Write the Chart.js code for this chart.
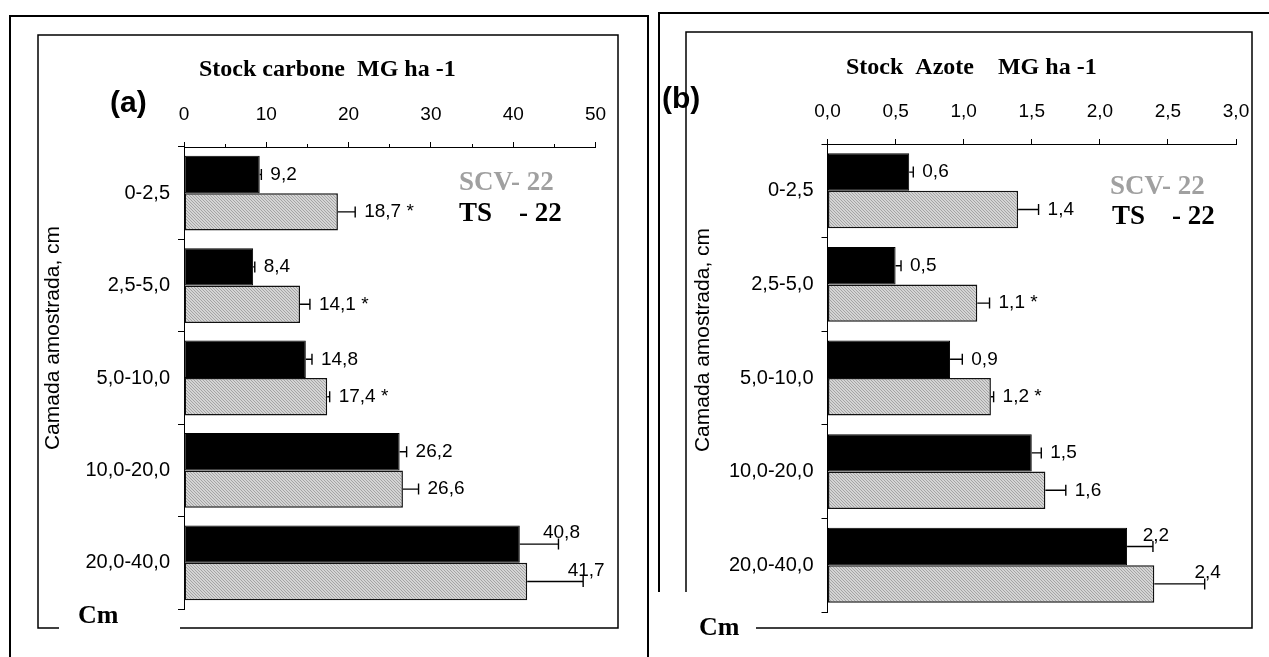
<!DOCTYPE html>
<html>
<head>
<meta charset="utf-8">
<script src="https://cdn.jsdelivr.net/npm/chart.js@4/dist/chart.umd.min.js"></script>
<style>
  html, body { margin: 0; padding: 0; background: #fff; }
  #wrap { position: relative; width: 1269px; height: 657px; overflow: hidden; background: #fff; }
  #chartC { position: absolute; left: 0; top: 0; }
  #chartN { position: absolute; left: 650px; top: 0; }
</style>
</head>
<body>
<div id="wrap">
  <canvas id="chartC" width="650" height="657"></canvas>
  <canvas id="chartN" width="619" height="657"></canvas>
</div>
<script>
// Soil layers (cm)
const layers = ['0-2,5', '2,5-5,0', '5,0-10,0', '10,0-20,0', '20,0-40,0'];

// Carbon stock, Mg ha-1
const carbonTS = [9.2, 8.4, 14.8, 26.2, 40.8];
const carbonTSErr = [0.2, 0.2, 0.75, 0.85, 4.7];
const carbonSCV = [18.7, 14.1, 17.4, 26.6, 41.7];
const carbonSCVErr = [2.1, 1.2, 0.3, 1.9, 6.8];
const carbonSCVMark = ['*', '*', '*', '', ''];
const carbonTicks = [0, 10, 20, 30, 40, 50];

// Nitrogen stock, Mg ha-1
const nitrogenTS = [0.6, 0.5, 0.9, 1.5, 2.2];
const nitrogenTSErr = [0.03, 0.04, 0.09, 0.07, 0.19];
const nitrogenSCV = [1.4, 1.1, 1.2, 1.6, 2.4];
const nitrogenSCVErr = [0.15, 0.09, 0.02, 0.15, 0.37];
const nitrogenSCVMark = ['', '*', '*', '', ''];
const nitrogenTicks = [0, 0.5, 1.0, 1.5, 2.0, 2.5, 3.0];

const SANS = "'Liberation Sans', Arial, sans-serif";
const SERIF = "'Liberation Serif', 'Times New Roman', serif";

Chart.defaults.font.family = SANS;
Chart.defaults.color = '#000';

const comma = (v, d) => v.toFixed(d).replace('.', ',');

// fine grey hatch used for the SCV bars
function hatchPattern() {
  const c = document.createElement('canvas');
  c.width = 3; c.height = 3;
  const g = c.getContext('2d');
  g.fillStyle = '#d4d4d4';
  g.fillRect(0, 0, 3, 3);
  g.fillStyle = '#a4a4a4';
  for (let i = 0; i < 3; i++) g.fillRect(i, i, 1, 1);
  return g.createPattern(c, 'repeat');
}

// error bars (positive side) and value labels beside each bar
const barExtras = {
  id: 'barExtras',
  afterDatasetsDraw(chart) {
    const { ctx } = chart;
    const xs = chart.scales.x;
    const last = chart.data.labels.length - 1;
    chart.data.datasets.forEach((ds, di) => {
      const meta = chart.getDatasetMeta(di);
      meta.data.forEach((bar, i) => {
        const v = ds.data[i];
        const x0 = bar.x, y = bar.y;
        const x1 = xs.getPixelForValue(v + ds.errors[i]);
        ctx.save();
        ctx.strokeStyle = '#000';
        ctx.lineWidth = 1.4;
        ctx.beginPath();
        ctx.moveTo(x0, y); ctx.lineTo(x1, y);
        ctx.moveTo(x1, y - 5.5); ctx.lineTo(x1, y + 5.5);
        ctx.stroke();
        const mark = ds.marks && ds.marks[i] ? ' ' + ds.marks[i] : '';
        ctx.font = '19px ' + SANS;
        ctx.fillStyle = '#000';
        ctx.textBaseline = 'middle';
        if (i === last) {
          ctx.textAlign = 'center';
          ctx.fillText(comma(v, 1) + mark, x1 + 3, y - 11);
        } else {
          ctx.textAlign = 'left';
          ctx.fillText(comma(v, 1) + mark, x1 + 9, y);
        }
        ctx.restore();
      });
    });
  }
};

// panel frames and free text (titles, panel letter, key, depth unit)
const decor = {
  id: 'decor',
  afterDraw(chart, args, opts) {
    const { ctx } = chart;
    ctx.save();
    ctx.strokeStyle = '#000';
    (opts.lines || []).forEach(l => {
      ctx.lineWidth = l.width;
      ctx.beginPath();
      l.pts.forEach((p, k) => (k ? ctx.lineTo(p[0], p[1]) : ctx.moveTo(p[0], p[1])));
      ctx.stroke();
    });
    (opts.texts || []).forEach(t => {
      ctx.save();
      ctx.font = t.font;
      ctx.fillStyle = t.color || '#000';
      ctx.textBaseline = 'middle';
      ctx.textAlign = t.align || 'left';
      ctx.translate(t.x, t.y);
      if (t.rotate) ctx.rotate(t.rotate);
      ctx.fillText(t.text, 0, 0);
      ctx.restore();
    });
    ctx.restore();
  }
};

function makeChart(id, cfg) {
  const el = document.getElementById(id);
  return new Chart(el, {
    type: 'bar',
    data: {
      labels: layers,
      datasets: [
        {
          label: 'TS - 22', data: cfg.ts, errors: cfg.tsErr,
          backgroundColor: '#000', borderColor: '#000', borderWidth: 1, borderSkipped: false,
          categoryPercentage: cfg.catPct, barPercentage: 1.0
        },
        {
          label: 'SCV- 22', data: cfg.scv, errors: cfg.scvErr, marks: cfg.marks,
          backgroundColor: hatchPattern(), borderColor: '#111', borderWidth: 1.5, borderSkipped: false,
          categoryPercentage: cfg.catPct, barPercentage: 1.0
        }
      ]
    },
    options: {
      indexAxis: 'y',
      responsive: false,
      animation: false,
      devicePixelRatio: 1,
      events: [],
      layout: { padding: { left: 0, top: 0, right: cfg.padRight, bottom: cfg.padBottom } },
      scales: {
        x: {
          position: 'top',
          min: cfg.ticks[0],
          max: cfg.ticks[cfg.ticks.length - 1],
          afterFit: s => { s.height = cfg.top; },
          ticks: {
            stepSize: cfg.step,
            padding: 16,
            maxRotation: 0,
            autoSkip: false,
            font: { size: 19 },
            color: '#000',
            callback: v => cfg.ticks.some(t => Math.abs(t - v) < 1e-9) ? cfg.fmtTick(v) : ''
          },
          grid: {
            drawOnChartArea: false,
            drawTicks: true,
            tickLength: 5,
            color: '#000',
            tickWidth: 1,
            tickBorderDash: c => (c.tick && !cfg.ticks.some(t => Math.abs(t - c.tick.value) < 1e-9)) ? [0, 2, 3, 100] : []
          },
          border: { display: true, color: '#000', width: 1 }
        },
        y: {
          afterFit: s => { s.width = cfg.left; },
          ticks: { padding: 8, font: { size: 20 }, color: '#000' },
          grid: {
            offset: true,
            drawOnChartArea: false,
            drawTicks: true,
            tickLength: 6,
            color: '#000'
          },
          border: { display: true, color: '#000', width: 1 }
        }
      },
      plugins: {
        legend: { display: false },
        tooltip: { enabled: false },
        decor: cfg.decor
      }
    },
    plugins: [barExtras, decor]
  });
}

makeChart('chartC', {
  ts: carbonTS, tsErr: carbonTSErr, scv: carbonSCV, scvErr: carbonSCVErr, marks: carbonSCVMark,
  ticks: carbonTicks, step: 5, fmtTick: v => String(v),
  left: 184, top: 147, padRight: 54.5, padBottom: 48, catPct: 0.81,
  decor: {
    lines: [
      { width: 2, pts: [[10, 660], [10, 16], [648, 16], [648, 660]] },
      { width: 1.5, pts: [[59, 628], [38, 628], [38, 35], [618, 35], [618, 628], [180, 628]] }
    ],
    texts: [
      { text: 'Stock carbone  MG ha -1', x: 199, y: 70, font: 'bold 24px ' + SERIF },
      { text: '(a)', x: 110, y: 104, font: 'bold 30px ' + SANS },
      { text: 'SCV- 22', x: 459, y: 183, font: 'bold 27px ' + SERIF, color: '#a0a0a0' },
      { text: 'TS    - 22', x: 459, y: 214, font: 'bold 27px ' + SERIF },
      { text: 'Cm', x: 78, y: 616, font: 'bold 26px ' + SERIF },
      { text: 'Camada amostrada, cm', x: 53, y: 338, align: 'center', rotate: -Math.PI / 2, font: '21px ' + SANS }
    ]
  }
});

makeChart('chartN', {
  ts: nitrogenTS, tsErr: nitrogenTSErr, scv: nitrogenSCV, scvErr: nitrogenSCVErr, marks: nitrogenSCVMark,
  ticks: nitrogenTicks, step: 0.5, fmtTick: v => comma(v, 1),
  left: 177.5, top: 144, padRight: 33, padBottom: 45, catPct: 0.80,
  decor: {
    lines: [
      { width: 2, pts: [[9, 592], [9, 13], [625, 13]] },
      { width: 1.5, pts: [[36, 592], [36, 32], [602, 32], [602, 628], [106, 628]] }
    ],
    texts: [
      { text: 'Stock  Azote    MG ha -1', x: 196, y: 68, font: 'bold 24px ' + SERIF },
      { text: '(b)', x: 12, y: 100, font: 'bold 30px ' + SANS },
      { text: 'SCV- 22', x: 460, y: 187, font: 'bold 27px ' + SERIF, color: '#a0a0a0' },
      { text: 'TS    - 22', x: 462, y: 217, font: 'bold 27px ' + SERIF },
      { text: 'Cm', x: 49, y: 628, font: 'bold 26px ' + SERIF },
      { text: 'Camada amostrada, cm', x: 53, y: 340, align: 'center', rotate: -Math.PI / 2, font: '21px ' + SANS }
    ]
  }
});
</script>
</body>
</html>
